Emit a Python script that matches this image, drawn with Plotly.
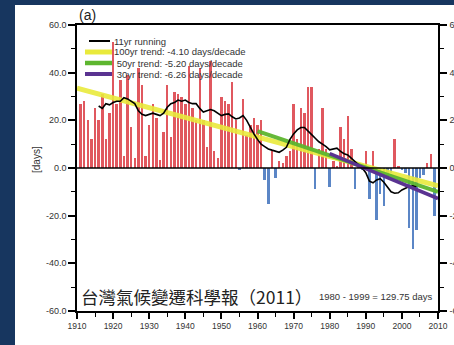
import plotly.graph_objects as go

# ---------------- data ----------------
years = list(range(1911, 2010))
days = [
    27, 28, 20, 12, 25, 20, 31, 12, 23, 53,      # 1911-1920
    27, 37, 5, 39, 17, 4, 42, 35, 5, 18,         # 1921-1930
    27, 21, 3.5, 15, 35, 13, 32, 31, 30, 27,     # 1931-1940
    43, 25, 20, 42, 20, 9, 45, 7, 4, 30,         # 1941-1950
    28, 27, 36, 20, -1, 29, 14, 18, 21, 18,      # 1951-1960
    20, -5, -15, 7, -4, 3, 2, 5, 7, 27,          # 1961-1970
    12, 25, 23, 34, 34, -9, 8, 25, 8, -8,        # 1971-1980
    3, 1, 17, 12, 22, 8, -9, 1, -1, 7,           # 1981-1990
    -13, 7, -22, -11, -16, -4, -2, 12, 1, -1,    # 1991-2000
    -2, -25, -34, -26, -4, -3, 2, 6, -20,        # 2001-2009
]

run_years = list(range(1916, 2005))
run_vals = [
    26, 25, 27, 26.5, 27.5, 28, 28, 29.5, 29, 28,          # 1916-1925
    27, 24, 22.5, 22, 22.5, 23, 22.5, 22, 23, 25.5,        # 1926-1935
    27, 27.5, 28.5, 28, 28.5, 27.5, 27, 27, 25, 23.5,      # 1936-1945
    24, 24.5, 24, 23, 22, 22.5, 22.7, 21.5, 20.6, 21,      # 1946-1955
    22, 20, 17, 14.3, 12, 10, 9, 8, 7.5, 7,                # 1956-1965
    6.6, 7.5, 8.7, 12, 14.3, 16, 17, 17, 15.7, 14,         # 1966-1975
    12.5, 11, 10, 9, 7.6, 8, 8.3, 7, 6, 5.5,               # 1976-1985
    4, 2.5, 1.3, 0, -2, -5.5, -6.2, -5, -4.5, -6,          # 1986-1995
    -8, -10, -10.6, -10.4, -9.2, -8.5, -7.8, -7.5, -8,     # 1996-2004
]

trend100_years = [1910, 2010]
trend100_vals = [33.5, -7.5]
trend50_years = [1960, 2010]
trend50_vals = [15.5, -10]
trend30_years = [1980, 2010]
trend30_vals = [6, -12.8]

legend_labels = [
    "11yr running",
    "100yr trend: -4.10 days/decade",
    " 50yr trend: -5.20 days/decade",
    " 30yr trend: -6.26 days/decade",
]

y_ticks = [-60, -40, -20, 0, 20, 40, 60]
y_ticktext = ["-60.0", "-40.0", "-20.0", "0.0", "20.0", "40.0", "60.0"]
x_ticks = list(range(1910, 2011, 10))

# ---------------- style ----------------
W, H = 454, 345
L, R, T, B = 77, 438, 25, 311          # plot area in pixels
NAR = "Liberation Sans Narrow, Arial Narrow, Liberation Sans, Arial, sans-serif"
RED = "#e0585f"
BLUE = "#5b86c6"
YEL = "#e9ea3c"
GRN = "#5db62f"
PUR = "#5a3391"
NAVY = "#17365f"


def px(xp):
    return (xp - L) / (R - L)


def py(yp):
    return (B - yp) / (B - T)


bar_colors = [RED if v >= 0 else BLUE for v in days]

fig = go.Figure()
fig.add_trace(go.Bar(x=years, y=days, marker=dict(color=bar_colors, line=dict(width=0)),
                     width=0.68, showlegend=False, hoverinfo="x+y"))
fig.add_trace(go.Scatter(x=trend100_years, y=trend100_vals, mode="lines",
                         line=dict(color=YEL, width=5), opacity=0.9, showlegend=False))
fig.add_trace(go.Scatter(x=trend50_years, y=trend50_vals, mode="lines",
                         line=dict(color=GRN, width=4), opacity=0.95, showlegend=False))
fig.add_trace(go.Scatter(x=trend30_years, y=trend30_vals, mode="lines",
                         line=dict(color=PUR, width=3.5), showlegend=False, yaxis="y2"))
fig.add_trace(go.Scatter(x=run_years, y=run_vals, mode="lines",
                         line=dict(color="black", width=1.6), showlegend=False))

shapes = []
# zero line
shapes.append(dict(type="line", xref="paper", yref="y", x0=0, x1=1, y0=0, y1=0,
                   line=dict(color="black", width=1.5)))
# navy frame strips
shapes.append(dict(type="rect", xref="paper", yref="paper", x0=px(0), x1=px(15),
                   y0=py(H), y1=py(0), fillcolor=NAVY, line=dict(width=0), layer="below"))
shapes.append(dict(type="rect", xref="paper", yref="paper", x0=px(0), x1=px(W),
                   y0=py(5), y1=py(0), fillcolor=NAVY, line=dict(width=0), layer="below"))

# manual legend
leg_rows = [41, 52, 63, 74]
leg_styles = [("black", 2, 89, 110), (YEL, 5, 85, 112), (GRN, 4.5, 85, 112), (PUR, 4, 85, 112)]
annotations = []
for yrow, (col, w, xa, xb), lab in zip(leg_rows, leg_styles, legend_labels):
    shapes.append(dict(type="line", xref="paper", yref="paper", x0=px(xa), x1=px(xb),
                       y0=py(yrow), y1=py(yrow), line=dict(color=col, width=w)))
    annotations.append(dict(x=px(113), y=py(yrow), xref="paper", yref="paper", text=lab,
                            showarrow=False, xanchor="left", yanchor="middle", borderpad=0,
                            font=dict(family=NAR, size=9.5, color="#333")))

annotations += [
    dict(x=px(77), y=py(15), xref="paper", yref="paper", text="(a)", showarrow=False,
         xanchor="left", yanchor="middle", font=dict(family="Liberation Sans, Arial", size=14, color="#222")),
    dict(x=px(37), y=py(160), xref="paper", yref="paper", text="[days]", showarrow=False,
         textangle=-90, xanchor="center", yanchor="middle",
         font=dict(family="Liberation Sans, Arial", size=10, color="#333")),
    dict(x=px(79), y=py(296), xref="paper", yref="paper", text="台灣氣候變遷科學報（2011）",
         showarrow=False, xanchor="left", yanchor="middle",
         font=dict(family="Noto Sans CJK TC", size=17.5, color="#222")),
    dict(x=px(435), y=py(296), xref="paper", yref="paper", text="1980 - 1999 = 129.75 days",
         showarrow=False, xanchor="right", yanchor="middle",
         font=dict(family=NAR, size=9.5, color="#333")),
]

axis_common = dict(ticks="outside", tickcolor="black", showline=True, linecolor="black",
                   linewidth=1.5, showgrid=False, zeroline=False, automargin=False,
                   ticklabeloverflow="allow")

fig.update_layout(
    width=W, height=H,
    margin=dict(l=L, r=W - R, t=T, b=H - B, pad=0, autoexpand=False),
    paper_bgcolor="white", plot_bgcolor="white",
    bargap=0,
    shapes=shapes, annotations=annotations,
    xaxis=dict(range=[1910, 2010], tickvals=x_ticks, ticklen=6, tickwidth=1.5, mirror=True,
               tickfont=dict(family=NAR, size=8.5, color="#333"),
               minor=dict(dtick=5, tick0=1910, ticks="outside", ticklen=4, tickwidth=1.2, tickcolor="black"),
               **axis_common),
    yaxis=dict(range=[-60, 60], tickvals=y_ticks, ticktext=y_ticktext, ticklen=7,
               tickwidth=1.5, mirror=True,
               tickfont=dict(family=NAR, size=9, color="#333"),
               minor=dict(dtick=10, tick0=0, ticks="outside", ticklen=4, tickwidth=1.2, tickcolor="black"),
               **axis_common),
    yaxis2=dict(range=[-60, 60], overlaying="y", side="right", tickvals=y_ticks, ticktext=y_ticktext,
                ticklen=7, tickwidth=1.5, ticklabelstandoff=1,
                tickfont=dict(family=NAR, size=9, color="#333"),
                minor=dict(dtick=10, tick0=0, ticks="outside", ticklen=4, tickwidth=1.2, tickcolor="black"),
                **axis_common),
)

fig.write_html("out.html", config={"displayModeBar": False},
               post_script="document.body.style.margin='0';document.body.style.overflow='hidden';")
